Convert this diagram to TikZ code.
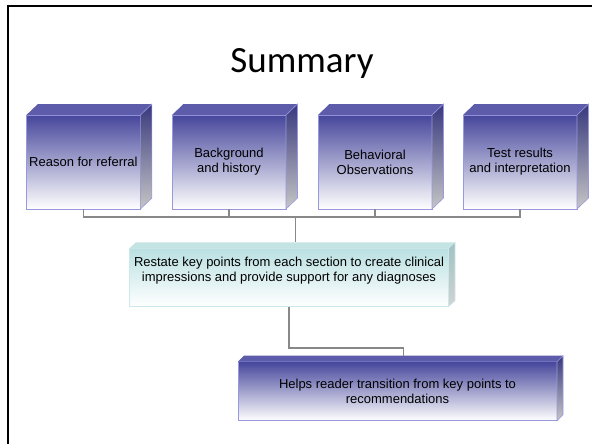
\documentclass[tikz,border=0pt]{standalone}
\usepackage{fontspec}
\setmainfont{Liberation Sans}
\newfontfamily\titlefont{Carlito}
\usepackage{xcolor}
\usepackage{tikz}
\usetikzlibrary{calc}

\definecolor{boxblue}{RGB}{70,70,156}
\definecolor{boxlid}{RGB}{92,92,170}
\definecolor{boxside}{RGB}{56,56,126}
\definecolor{boxedge}{RGB}{152,152,222}
\definecolor{tealfront}{RGB}{186,224,226}
\definecolor{teallid}{RGB}{196,228,228}
\definecolor{tealside}{RGB}{160,194,196}
\definecolor{tealedge}{RGB}{204,232,234}
\definecolor{linkgray}{RGB}{136,136,136}

\tikzset{
  bluebox/.style={shape=rectangle, draw=boxedge, line width=0.8pt, top color=boxblue, bottom color=white,
    inner sep=1pt, outer sep=0pt, align=center, font=\fontsize{13}{15}\selectfont},
  tealbox/.style={bluebox, draw=tealedge, top color=tealfront},
  link/.style={-, draw=linkgray, line width=1.6pt}
}

\begin{document}
\begin{tikzpicture}[x=1pt, y=-1pt]
\useasboundingbox (0,0) rectangle (592,444);

%% slide frame
\draw[line width=2pt] (8,444) -- (8,6) -- (592,6);

%% title
\node[font=\titlefont\fontsize{37}{44}\selectfont, anchor=base] (title) at (302,73) {Summary};

% nodes

\node[bluebox, minimum width=114pt, minimum height=94pt] (b1) at (83.4,162) {Reason for referral};
\node[bluebox, minimum width=114pt, minimum height=94pt] (b2) at (229,162) {Background\\and history};
\node[bluebox, minimum width=114pt, minimum height=94pt] (b3) at (375,162) {Behavioral\\Observations};
\node[bluebox, minimum width=114pt, minimum height=94pt] (b4) at (520,162) {Test results\\and interpretation};

\node[tealbox, minimum width=319pt, minimum height=58.4pt,
  label={[yshift=7pt, align=center, font=\fontsize{13}{15.6}\selectfont]center:Restate key points from each section to create clinical\\impressions and provide support for any diagnoses}] (mid) at (289,277.5) {};
\node[bluebox, minimum width=319pt, minimum height=59pt] (low) at (397.5,391.2) {Helps reader transition from key points to\\recommendations};

%% depth faces
\foreach \b in {b1,b2,b3,b4}{
  \fill[boxlid] (\b.north west) -- ++(11.5,-11) -- ($(\b.north east)+(11.5,-11)$) -- (\b.north east) -- cycle;
  \shade[top color=boxside, bottom color=gray!45, draw=boxedge, line width=0.6pt] (\b.north east) -- ++(11.5,-11) -- ($(\b.south east)+(11.5,-11)$) -- (\b.south east) -- cycle;
}
\fill[teallid] (mid.north west) -- ++(6.5,-6) -- ($(mid.north east)+(6.5,-6)$) -- (mid.north east) -- cycle;
\shade[top color=tealside, bottom color=gray!35, draw=tealedge, line width=0.6pt] (mid.north east) -- ++(6.5,-6) -- ($(mid.south east)+(6.5,-6)$) -- (mid.south east) -- cycle;
\fill[boxlid] (low.north west) -- ++(6,-6) -- ($(low.north east)+(6,-6)$) -- (low.north east) -- cycle;
\shade[top color=boxside, bottom color=gray!45, draw=boxedge, line width=0.6pt] (low.north east) -- ++(6,-6) -- ($(low.south east)+(6,-6)$) -- (low.south east) -- cycle;

\coordinate (midlid) at ($(mid.north)+(6.5,-6)$);
\coordinate (lowlid) at ($(low.north)+(6,-6)$);
\coordinate (bus) at (midlid |- 0,216.7);

%% lines
\draw[link] (b1.south) |- (bus);
\draw[link] (b2.south) |- (bus);
\draw[link] (b3.south) |- (bus);
\draw[link] (b4.south) |- (bus);
\draw[link] (bus) -- (midlid);
\draw[link] (mid.south) -- ++(0,41) -| (lowlid);

\end{tikzpicture}
\end{document}
